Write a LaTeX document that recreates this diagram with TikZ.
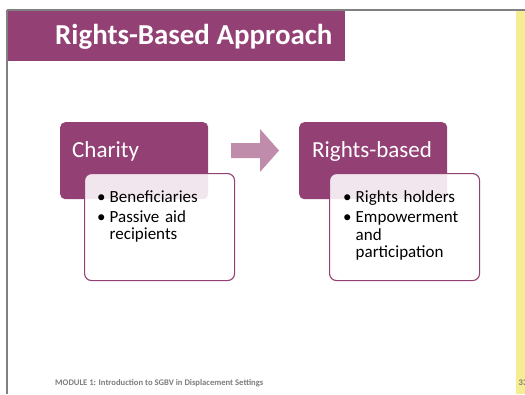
\documentclass[tikz,border=0pt]{standalone}
\usepackage{fontspec}
\setmainfont{Carlito}
\usetikzlibrary{positioning}

\definecolor{plum}{RGB}{147,64,116}
\definecolor{lightplum}{RGB}{192,140,172}
\definecolor{padyellow}{RGB}{246,236,145}
\definecolor{framegray}{RGB}{128,128,128}
\definecolor{footgray}{RGB}{125,125,125}

% list settings and one bullet line with hanging indent
\newcommand{\listsetup}{\raggedright\hyphenpenalty=10000\relax\parskip=2.5pt\relax}
\newcommand{\bulletline}[1]{\hangindent=12.5pt\hangafter=1\noindent\makebox[12.5pt][l]{\textbullet}#1\par}

\tikzset{
  headbox/.style={fill=plum, rounded corners=5pt, inner sep=0pt, anchor=north west,
    minimum width=148pt, minimum height=77pt},
  headtext/.style={text=white, font={\fontsize{23}{27}\selectfont}, inner sep=0pt, anchor=base west},
  listbox/.style={draw=plum, line width=1.1pt, fill=white, fill opacity=0.87, rounded corners=7pt,
    inner sep=0pt, anchor=north west, minimum width=150pt, minimum height=107pt},
  listtext/.style={text=black, inner sep=0pt, anchor=north west, text width=122pt,
    font={\fontsize{17}{17.5}\selectfont}},
  foottext/.style={text=footgray, font={\fontsize{8.6}{10}\selectfont\bfseries}, inner sep=0pt, anchor=base west}
}

\begin{document}
\begin{tikzpicture}[x=1pt, y=-1pt]

    % page area
    \useasboundingbox (0,0) rectangle (525,394);
    \fill[white] (0,0) rectangle (525,394);

    % yellow margin on the right
    \fill[padyellow] (516,11) rectangle (525,394);

    % frame lines (top and left)
    \draw[framegray, line width=1.6pt] (7,10) -- (525,10);
    \draw[framegray, line width=1.3pt] (7,10) -- (7,394);

    % title bar
    \fill[plum] (7.7,11) rectangle (345,61);
    \node[text=white, font={\fontsize{28.9}{32}\selectfont\bfseries}, inner sep=0pt, anchor=base west]
      (title) at (55,44) {Rights-Based Approach};

    % left pair: Charity
    \node[headbox] (charity) at (60,122) {};
    \node[headtext] (charitylbl) at (72,157) {Charity};
    \node[listbox] (charitylist) at (84,173) {};
    \node[listtext] (charityitems) at (97,190.5)
      {\listsetup\bulletline{Beneficiaries}\bulletline{Passive aid recipients}};

    % block arrow between the pairs
    \fill[lightplum] (231,143) -- (260,143) -- (260,129) -- (279,150.5)
      -- (260,172) -- (260,158) -- (231,158) -- cycle;

    % right pair: Rights-based
    \node[headbox] (rights) at (299,122) {};
    \node[headtext] (rightslbl) at (312,157) {Rights-based};
    \node[listbox] (rightslist) at (329,173) {};
    \node[listtext] (rightsitems) at (343,190.5)
      {\listsetup\bulletline{Rights holders}\bulletline{Empowerment and participation}};

    % footer
    \node[foottext] (footer) at (55,385) {MODULE 1: Introduction to SGBV in Displacement Settings};
    \node[foottext] (pagenum) at (518.5,385) {33};

\end{tikzpicture}
\end{document}
